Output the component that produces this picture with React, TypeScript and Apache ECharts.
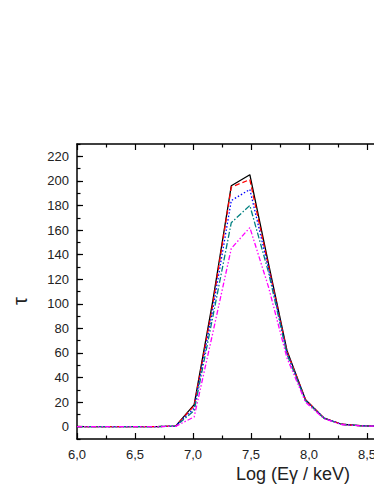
import React, { useEffect, useRef } from "react";
import * as echarts from "echarts";

const xVals = [6.0, 6.21, 6.37, 6.53, 6.69, 6.85, 7.01, 7.17, 7.33, 7.49, 7.65, 7.81, 7.97, 8.13, 8.28, 8.44, 8.6, 8.76, 8.92];
const blackVals = [0, 0, 0, 0, 0.1, 0.5, 18, 102, 196, 205, 133, 62, 22, 7, 2, 0.8, 0.3, 0.1, 0.05];
const redVals = [0, 0, 0, 0, 0.1, 0.5, 17, 99, 195, 201, 131, 61, 22, 7, 2, 0.8, 0.3, 0.1, 0.05];
const blueVals = [0, 0, 0, 0, 0.1, 0.5, 15, 95, 184, 193, 129, 60, 21.5, 7, 2, 0.8, 0.3, 0.1, 0.05];
const tealVals = [0, 0, 0, 0, 0.1, 0.4, 13, 89, 166, 180, 126, 59, 21, 6.8, 1.9, 0.8, 0.3, 0.1, 0.05];
const magentaVals = [0, 0, 0, 0, 0.1, 0.3, 8, 76, 145, 162, 114, 56, 20, 6.5, 1.8, 0.7, 0.3, 0.1, 0.05];
const yTickVals = [0, 20, 40, 60, 80, 100, 120, 140, 160, 180, 200, 220];

const seriesDefs = [
  { name: "a", data: blackVals, color: "#000000", dash: "solid" as any },
  { name: "b", data: redVals, color: "#ff0000", dash: [5, 3] },
  { name: "c", data: blueVals, color: "#0000ff", dash: [1.5, 2] },
  { name: "d", data: tealVals, color: "#008080", dash: [6, 2, 1.5, 2] },
  { name: "e", data: magentaVals, color: "#ff00ff", dash: [5, 2, 1.5, 2, 1.5, 2] },
];

const FONT = "'Liberation Sans', Arial, sans-serif";

export default function App() {
  const ref = useRef<HTMLDivElement>(null);
  useEffect(() => {
    if (!ref.current) return;
    const chart = echarts.init(ref.current, undefined, { renderer: "svg" });
    const axisLine = { show: true, onZero: false, lineStyle: { color: "#000", width: 1.5 } };
    const tick = { show: true, inside: true, length: 6, lineStyle: { color: "#000", width: 1.2 } };
    const minor = { show: true, splitNumber: 2, length: 3.5, lineStyle: { color: "#000", width: 1.2 } };
    chart.setOption({
      animation: false,
      backgroundColor: "#ffffff",
      grid: { left: 77, top: 144, width: 348, height: 295, outerBoundsMode: "none", containLabel: false },
      xAxis: [
        {
          type: "value",
          min: 6,
          max: 9,
          interval: 0.5,
          position: "bottom",
          axisLine,
          axisTick: tick,
          minorTick: minor,
          splitLine: { show: false },
          axisLabel: {
            color: "#222",
            fontFamily: FONT,
            fontSize: 13,
            margin: 9,
            formatter: (v: number) => v.toFixed(1).replace(".", ","),
          },
        },
        {
          type: "value",
          min: 6,
          max: 9,
          interval: 0.5,
          position: "top",
          axisLine,
          axisTick: tick,
          minorTick: minor,
          splitLine: { show: false },
          axisLabel: { show: false },
        },
      ],
      yAxis: [
        {
          type: "value",
          min: -10,
          max: 230,
          interval: 10,
          position: "left",
          axisLine,
          axisTick: { ...tick, customValues: yTickVals },
          splitLine: { show: false },
          axisLabel: {
            color: "#222",
            fontFamily: FONT,
            fontSize: 13,
            margin: 8,
            customValues: yTickVals,
          },
        },
        {
          type: "value",
          min: -10,
          max: 230,
          interval: 10,
          position: "left",
          axisLine: { show: false, onZero: false },
          axisTick: { ...tick, length: 3.5 },
          splitLine: { show: false },
          axisLabel: { show: false },
        },
      ],
      graphic: [
        {
          type: "text",
          x: 293,
          y: 474,
          style: {
            text: "Log (E\u03b3 / keV)",
            fontFamily: FONT,
            fontSize: 18,
            fill: "#222",
            align: "center",
            verticalAlign: "middle",
          },
        },
        {
          type: "text",
          x: 20,
          y: 301,
          rotation: Math.PI / 2,
          style: {
            text: "\u03c4",
            fontFamily: FONT,
            fontSize: 20,
            fill: "#222",
            align: "center",
            verticalAlign: "middle",
          },
        },
      ],
      series: seriesDefs.map((s) => ({
        name: s.name,
        type: "line",
        xAxisIndex: 0,
        yAxisIndex: 0,
        symbol: "none",
        data: xVals.map((x, i) => [x, s.data[i]]),
        lineStyle: { color: s.color, width: 1.3, type: s.dash },
        itemStyle: { color: s.color },
        clip: true,
      })),
    });
    return () => chart.dispose();
  }, []);
  return (
    <div style={{ position: "absolute", left: 0, top: 0, width: 374, height: 484, overflow: "hidden", background: "#fff" }}>
      <div ref={ref} style={{ width: 460, height: 484 }} />
    </div>
  );
}
